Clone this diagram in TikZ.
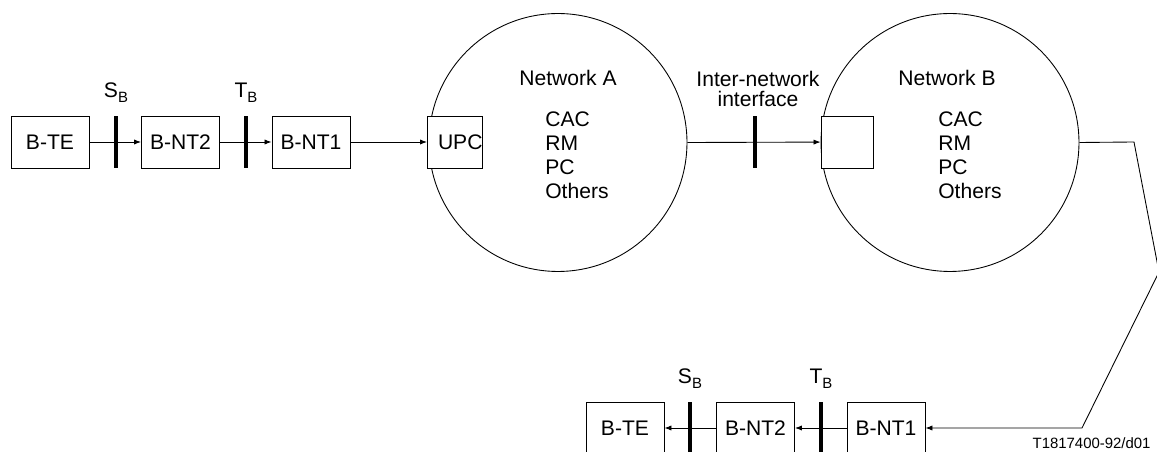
\documentclass[tikz,border=0pt]{standalone}
\usepackage{fontspec}
\setmainfont{Liberation Sans}
\usetikzlibrary{positioning, arrows.meta, calc}
\newcommand{\lowsub}[1]{\raisebox{-0.4ex}{\fontsize{8.5}{8.5}\selectfont #1}}
\tikzset{
  netfig/.style={
	x=0.02cm, y=-0.02cm, % one unit is one pixel of the drawing
	line width=0.5pt,
	>={Latex[length=4pt,width=3pt]}, % small filled heads
	font=\fontsize{12}{13.6}\selectfont,
  },
  blk/.style={draw, minimum width=1.56cm, minimum height=1.04cm, inner sep=0pt}, % equipment box
  sq/.style={draw, minimum width=1.04cm, minimum height=1.04cm, inner sep=0pt}, % box at network edge
  net/.style={draw, circle, minimum size=5.16cm, inner sep=0pt}, % network cloud
  bar/.style={fill=black, minimum width=2.3pt, minimum height=1.04cm, inner sep=0pt}, % reference point
}

\begin{document}
\begin{tikzpicture}[netfig]
	  \useasboundingbox (0,0) rectangle (1157,452);
	  % upper row
	  \node[blk] (te1) at (50,142) {B-TE};
	  \node[blk] (nt2a) at (180.5,142) {B-NT2};
	  \node[blk] (nt1a) at (311,142) {B-NT1};
	  \node[net] (neta) at (558,142.5) {};
	  \node[net] (netb) at (950,142.5) {};
	  \node[sq, fill=white] (upc) at (455,142) {\hspace*{6pt}UPC};
	  \node[sq, fill=white] (inb) at (847,142) {};
	  \draw[->] (te1) -- (nt2a);
	  \draw[->] (nt2a) -- (nt1a);
	  \draw[->] (nt1a) -- (upc);
	  \draw[->] (neta.east) -- (inb);
	  \node[bar] (sb1) at (116,142) {};
	  \node[bar] (tb1) at (246,142) {};
	  \node[bar] (inni) at (755,142) {};
	  \node[above=4pt of sb1] {S\lowsub{B}};
	  \node[above=4pt of tb1] {T\lowsub{B}};
	  \node[align=center, font=\fontsize{12}{11.4}\selectfont] (inlbl) at (758,89) {Inter-network\\interface};
	  % inside the networks
	  \node (namea) at (568,78) {Network A};
	  \node[anchor=west, align=left] (funa) at (539,155) {CAC\\RM\\PC\\Others};
	  \node (nameb) at (947,78) {Network B};
	  \node[anchor=west, align=left] (funb) at (932,155) {CAC\\RM\\PC\\Others};
	  % lower row
	  \node[blk] (te2) at (625,428) {B-TE};
	  \node[blk] (nt2b) at (755.5,428) {B-NT2};
	  \node[blk] (nt1b) at (886,428) {B-NT1};
	  \coordinate (c1) at (1134,142);
	  \coordinate (c2) at (1159,272);
	  \coordinate (c3) at (1082,428);
	  \draw[->] (netb.east) -- (c1) -- (c2) -- (c3) -- (nt1b);
	  \draw[->] (nt1b) -- (nt2b);
	  \draw[->] (nt2b) -- (te2);
	  \node[bar] (tb2) at (821,428) {};
	  \node[bar] (sb2) at (690,428) {};
	  \node[above=4pt of sb2] {S\lowsub{B}};
	  \node[above=4pt of tb2] {T\lowsub{B}};
	  \node[anchor=north east, inner sep=0pt, font=\fontsize{8.5}{9}\selectfont] (fig) at (1151,437) {T1817400-92/d01};
	  \end{tikzpicture}
\end{document}
